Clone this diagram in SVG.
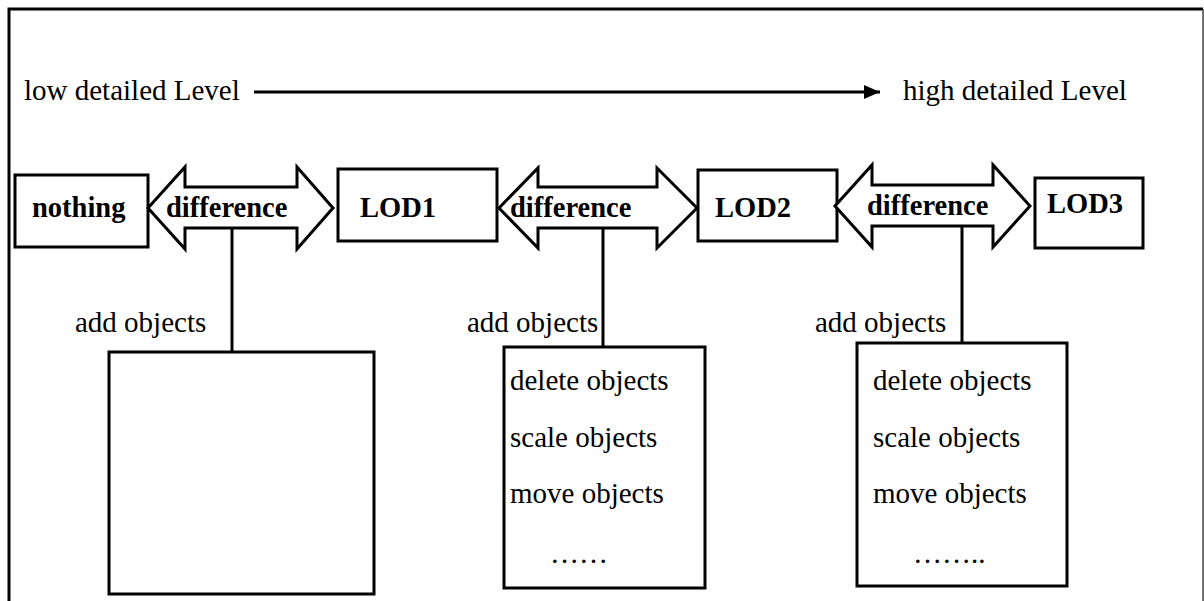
<svg xmlns="http://www.w3.org/2000/svg" width="1204" height="601" viewBox="0 0 1204 601">
  <style>
    .box { fill: #fff; stroke: #000; stroke-width: 3; }
    .dbl { fill: #fff; stroke: #000; stroke-width: 3; stroke-linejoin: miter; }
    .link { stroke: #000; stroke-width: 3; fill: none; }
    .t { font-family: "Liberation Serif", "Times New Roman", serif; font-size: 29px; fill: #000; }
    .b { font-family: "Liberation Serif", "Times New Roman", serif; font-size: 28.5px; font-weight: bold; fill: #000; }
  </style>
  <defs>
    <marker id="head" viewBox="0 0 16 14" refX="16" refY="7" markerWidth="16" markerHeight="14" orient="auto" markerUnits="userSpaceOnUse">
      <path d="M0,0 L16,7 L0,14 Z" fill="#000"/>
    </marker>
  </defs>

  <rect x="0" y="0" width="1204" height="601" fill="#fff"/>
  <!-- frame -->
  <path d="M9 601 V9 H1203" fill="none" stroke="#000" stroke-width="3"/>
  <line x1="1203" y1="9" x2="1203" y2="601" stroke="#444" stroke-width="1.5"/>

  <!-- level scale -->
  <g id="scale">
    <text class="t" x="24" y="100">low detailed Level</text>
    <line class="link" x1="254" y1="92" x2="880" y2="92" marker-end="url(#head)"/>
    <text class="t" x="903" y="100">high detailed Level</text>
  </g>

  <!-- connectors -->
  <g id="connectors">
    <line class="link" x1="232" y1="222" x2="232" y2="352"/>
    <line class="link" x1="603" y1="218" x2="603" y2="347"/>
    <line class="link" x1="962" y1="225" x2="962" y2="343"/>
  </g>

  <g id="nothing">
    <rect class="box" x="15" y="175" width="133" height="72"/>
    <text class="b" x="32" y="217">nothing</text>
  </g>

  <g id="diff1">
    <polygon class="dbl" points="148,208 185,167 185,187 297,187 297,167 333,208 297,249 297,228 185,228 185,249"/>
    <text class="b" x="166" y="217">difference</text>
  </g>

  <g id="lod1">
    <rect class="box" x="338" y="169" width="159" height="72"/>
    <text class="b" x="360" y="217">LOD1</text>
  </g>

  <g id="diff2">
    <polygon class="dbl" points="499,208 538,168 538,187 657,187 657,168 697,208 657,248 657,228 538,228 538,248"/>
    <text class="b" x="510" y="217">difference</text>
  </g>

  <g id="lod2">
    <rect class="box" x="698" y="170" width="139" height="71"/>
    <text class="b" x="715" y="217">LOD2</text>
  </g>

  <g id="diff3">
    <polygon class="dbl" points="835,206 872,165 872,185 993,185 993,165 1030,206 993,247 993,226 872,226 872,247"/>
    <text class="b" x="867" y="215">difference</text>
  </g>

  <g id="lod3">
    <rect class="box" x="1035" y="178" width="108" height="70"/>
    <text class="b" x="1047" y="213">LOD3</text>
  </g>

  <g id="ops1">
    <text class="t" x="75" y="332">add objects</text>
    <rect class="box" x="109" y="352" width="265" height="242"/>
  </g>

  <g id="ops2">
    <text class="t" x="467" y="332">add objects</text>
    <rect class="box" x="504" y="347" width="201" height="241"/>
    <text class="t" x="510" y="390">delete objects</text>
    <text class="t" x="510" y="447">scale objects</text>
    <text class="t" x="510" y="503">move objects</text>
    <text class="t" x="550" y="563">……</text>
  </g>

  <g id="ops3">
    <text class="t" x="815" y="332">add objects</text>
    <rect class="box" x="857" y="343" width="210" height="243"/>
    <text class="t" x="873" y="390">delete objects</text>
    <text class="t" x="873" y="447">scale objects</text>
    <text class="t" x="873" y="503">move objects</text>
    <text class="t" x="913" y="563">……..</text>
  </g>
</svg>
